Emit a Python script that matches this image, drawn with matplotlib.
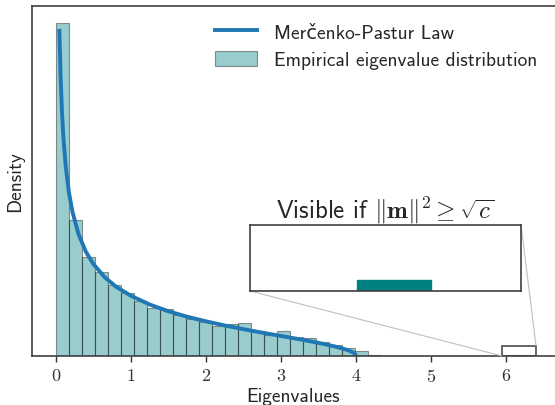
import matplotlib.pyplot as plt
import numpy as np
from mpl_toolkits.axes_grid1.inset_locator import mark_inset

plt.rcParams['mathtext.fontset'] = 'cm'
plt.rcParams['font.family'] = ['cmss10', 'DejaVu Sans']
plt.rcParams['axes.unicode_minus'] = False

# histogram of eigenvalues (density), 36 bins from 0 to 6.24
n_bins = 36
hist_max = 6.24
hist_density = [1.528, 0.624, 0.453, 0.384, 0.326, 0.289, 0.254, 0.219, 0.214,
                0.189, 0.171, 0.156, 0.138, 0.147, 0.151, 0.113, 0.098, 0.113,
                0.086, 0.084, 0.063, 0.052, 0.037, 0.024, 0.005,
                0, 0, 0, 0, 0, 0, 0, 0, 0, 0, 0.005]

# Marcenko-Pastur curve
mp_x = [0.045, 0.06, 0.08, 0.1, 0.13, 0.17, 0.22, 0.3, 0.4, 0.5, 0.65, 0.8,
        1.0, 1.25, 1.5, 1.75, 2.0, 2.25, 2.5, 2.75, 3.0, 3.25, 3.5, 3.7,
        3.85, 3.93, 3.97, 3.99, 4.0]
mp_y = [1.492, 1.290, 1.114, 0.994, 0.868, 0.755, 0.660, 0.559, 0.477, 0.421,
        0.361, 0.318, 0.276, 0.236, 0.205, 0.180, 0.159, 0.140, 0.123, 0.107,
        0.0919, 0.0765, 0.0602, 0.0453, 0.0314, 0.0212, 0.0138, 0.008, 0.0]

# inset: finer histogram around the outlier
inset_left = [5.875, 6.0, 6.125]
inset_density = [0.0, 0.0, 0.0080]
inset_width = 0.125

xticks = [0, 1, 2, 3, 4, 5, 6]

edges = np.linspace(0, hist_max, n_bins + 1)

fig = plt.figure(figsize=(5.55, 4.06), dpi=100)
ax = fig.add_axes([0.0577, 0.1207, 0.9423, 0.8621])

ax.plot(mp_x, mp_y, color='#1f77b4', lw=2.8, label='Merčenko-Pastur Law')
ax.bar(edges[:-1], hist_density, width=np.diff(edges), align='edge',
       color='teal', alpha=0.4, edgecolor='k', linewidth=0.8,
       label='Empirical eigenvalue distribution')

ax.set_xlim(-0.32, 6.653)
ax.set_ylim(0, 1.606)
ax.set_yticks([])
ax.set_xticks(xticks)
ax.set_xticklabels(['$%d$' % t for t in xticks])
ax.tick_params(axis='x', direction='out', length=4, width=1, color='0.2',
               labelsize=13, pad=4, labelcolor='0.2')
ax.spines['right'].set_visible(False)
for s in ['left', 'top', 'bottom']:
    ax.spines[s].set_color('0.25')
    ax.spines[s].set_linewidth(1.2)

ax.set_xlabel('Eigenvalues', fontsize=14, labelpad=2, color='0.15')
ax.set_ylabel('Density', fontsize=14, labelpad=6, color='0.15')

ax.legend(loc='upper right', frameon=False, fontsize=14,
          handlelength=2.15, handleheight=0.77, handletextpad=0.9,
          labelspacing=0.5, labelcolor='0.15')

axins = fig.add_axes([0.4505, 0.2808, 0.4883, 0.1626])
axins.bar(inset_left, inset_density, width=inset_width, align='edge',
          color='teal', edgecolor='teal', linewidth=1)
axins.set_xlim(5.947, 6.40)
axins.set_ylim(0, 0.047)
axins.set_xticks([])
axins.set_yticks([])
for s in axins.spines.values():
    s.set_color('0.25')
    s.set_linewidth(1.2)
axins.set_title(r'Visible if $\|\mathbf{m}\|^2 \geq \sqrt{c}$', fontsize=18,
                pad=3, color='0.15')

pp, p1, p2 = mark_inset(ax, axins, loc1=1, loc2=3, fc='none', ec='0.3', lw=1.2)
for p in (p1, p2):
    p.set_edgecolor('0.75')
    p.set_linewidth(0.8)

fig.savefig('out.png', dpi=100)
